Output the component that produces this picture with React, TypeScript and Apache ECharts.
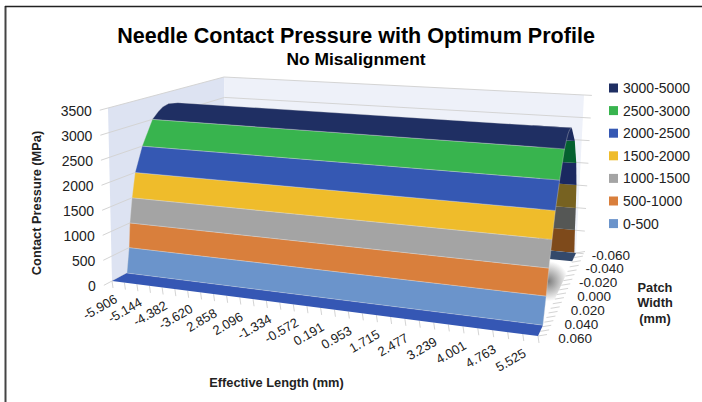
import React, { useEffect, useRef } from "react";
import * as echarts from "echarts";

const titleText = "Needle Contact Pressure with Optimum Profile";
const subtitleText = "No Misalignment";
const pressureAxisName = "Contact Pressure (MPa)";
const lengthAxisName = "Effective Length (mm)";
const widthAxisName = ["Patch", "Width", "(mm)"];

const pressureTicks = [0, 500, 1000, 1500, 2000, 2500, 3000, 3500];
const lengthLabels = ["-5.906", "-5.144", "-4.382", "-3.620", "2.858", "2.096", "-1.334", "-0.572", "0.191", "0.953", "1.715", "2.477", "3.239", "4.001", "4.763", "5.525"];
const widthLabels = ["0.060", "0.040", "0.020", "0.000", "-0.020", "-0.040", "-0.060"];

const bandNames = ["0-500", "500-1000", "1000-1500", "1500-2000", "2000-2500", "2500-3000", "3000-5000"];
const bandColors = ["#6b94cb", "#d97f3c", "#a4a4a4", "#efbc2b", "#3558b3", "#38b44e", "#1f2f63"];
const capColors = ["#7e4a1b", "#555755", "#776221", "#1a2860", "#04612f", "#1c2b5e"];
const legendOrder = [...bandNames].reverse();

// Cross-section of the surface, floor to ridge, seen at the near side
const profileWidth = [0.0444, 0.0416, 0.0402, 0.0374, 0.0336, 0.0257, 0.0146, 0.0084, 0.0036, -0.0024, -0.012];
const profilePressure = [0, 500, 1000, 1500, 2000, 2500, 3000, 3130, 3205, 3240, 3200];
// Cross-section at the far side, visible only on the right end cap
const capWidth = [-0.054, -0.0516, -0.0504, -0.048, -0.042, -0.03, -0.012];
const capPressure = [90, 627, 1122, 1650, 2190, 2773, 3200];

const FLOOR_BLUE = "#3557b4";
const FLOOR_SLATE = "#34496b";
const INK = "#222222";
const FONT = '"Liberation Sans", Arial, sans-serif';

const P_MAX = 3500;
const W_MAX = 0.06;
const LENGTH_STEPS = 31;
const WIDTH_STEPS = 18;

// 3D box corners on the page: [near/far][left/right][floor/top]
const box = {
  nlb: [112, 281], nlt: [108, 108],
  flb: [227, 220], flt: [224, 77],
  nrb: [538, 336], nrt: [556, 140],
  frb: [576, 253], frt: [584, 95],
};
const lerp = (a: number, b: number, t: number) => a + (b - a) * t;
const project = (tx: number, mm: number, p: number) => {
  const d = (W_MAX - mm) / (2 * W_MAX);
  const k = p / P_MAX;
  const out: number[] = [];
  for (const c of [0, 1]) {
    const near = lerp(lerp(box.nlb[c], box.nlt[c], k), lerp(box.nrb[c], box.nrt[c], k), tx);
    const far = lerp(lerp(box.flb[c], box.flt[c], k), lerp(box.frb[c], box.frt[c], k), tx);
    out.push(lerp(near, far, d));
  }
  return out;
};
const PERSP = 0.9;
const lengthT = (i: number) => {
  const t = i / LENGTH_STEPS;
  return (PERSP * t) / (1 + (PERSP - 1) * t);
};

const poly = (api: any, pts: number[][], fill: any, stroke?: string) => ({
  type: "polygon",
  shape: { points: pts.map((q) => api.coord(q)) },
  style: stroke ? { fill, stroke, lineWidth: 0.6 } : { fill },
  silent: true,
});
const seg = (a: number[], b: number[], color = "#d4d4d4", w = 1) => ({
  type: "line",
  shape: { x1: a[0], y1: a[1], x2: b[0], y2: b[1] },
  style: { stroke: color, lineWidth: w },
  silent: true,
});
const label = (text: string, x: number, y: number, size: number, align: string, rot = 0, bold = false) => ({
  type: "text",
  x,
  y,
  rotation: rot,
  style: { text, fill: INK, font: `${bold ? "bold " : ""}${size}px ${FONT}`, align, verticalAlign: "middle" },
  silent: true,
});

const custom = (name: string, renderItem: any, color?: string, count = 1) => ({
  type: "custom",
  name,
  coordinateSystem: "cartesian2d",
  data: Array.from({ length: count }, (_, i) => [i, 0]),
  encode: { x: 0, y: 1 },
  clip: false,
  silent: true,
  itemStyle: color ? { color } : undefined,
  renderItem,
});

const renderWalls = (_: any, api: any) => ({
  type: "group",
  children: [
    poly(api, [project(0, W_MAX, 0), project(0, W_MAX, P_MAX), project(0, -W_MAX, P_MAX), project(0, -W_MAX, 0)], "#dde3f2"),
    poly(api, [project(0, -W_MAX, 0), project(0, -W_MAX, P_MAX), project(1, -W_MAX, P_MAX), project(1, -W_MAX, 0)], "#eef1f9"),
  ],
});

const renderPressureTick = (params: any, api: any) => {
  const p = pressureTicks[params.dataIndex];
  const a = api.coord(project(0, W_MAX + 0.0085, p));
  const b = api.coord(project(0, -W_MAX, p));
  const c = api.coord(project(1.022, -W_MAX, p));
  return {
    type: "group",
    children: [seg(a, b), seg(b, c), label(String(p), a[0] - 8, a[1] + 1, 14, "right")],
  };
};

const renderLengthTick = (params: any, api: any) => {
  const i = params.dataIndex;
  const a = api.coord(project(lengthT(i), W_MAX, 0));
  const children: any[] = [seg(a, [a[0] + 1, a[1] + 7])];
  if (i % 2 === 0 && lengthLabels[i / 2] !== undefined) {
    children.push(label(lengthLabels[i / 2], a[0] - 12, a[1] + 26, 13, "center", Math.PI / 6));
  }
  return { type: "group", children };
};

const renderWidthTick = (params: any, api: any) => {
  const i = params.dataIndex;
  const mm = W_MAX - (2 * W_MAX * i) / WIDTH_STEPS;
  const a = api.coord(project(1, mm, 0));
  const children: any[] = [seg(a, [a[0] + 9, a[1] - 1.5])];
  if (i % 3 === 0) children.push(label(widthLabels[i / 3], a[0] + 54, a[1] + 2, 13.5, "right"));
  return { type: "group", children };
};

const renderCap = (params: any, api: any) => {
  const i = params.dataIndex;
  const outer = 1;
  const inner = 0.9;
  return poly(api, [
    project(outer, capWidth[i], capPressure[i]),
    project(outer, capWidth[i + 1], capPressure[i + 1]),
    project(inner, capWidth[i + 1], capPressure[i + 1]),
    project(inner, capWidth[i], capPressure[i]),
  ], capColors[i]);
};

const renderFloor = (_: any, api: any) => {
  const c = api.coord(project(0.97, 0.0, 0));
  return {
    type: "group",
    children: [
      poly(api, [project(0, W_MAX, 0), project(1, W_MAX, 0), project(1, -W_MAX, 0), project(0, -W_MAX, 0)], "#ffffff"),
      poly(api, [project(0.9, 0.05, 0), project(1, 0.05, 0), project(1, -0.048, 0), project(0.9, -0.048, 0)],
        new (echarts.graphic as any).RadialGradient(c[0] + 3, c[1] - 12, 20, [
          { offset: 0, color: "#7d7d7d" },
          { offset: 1, color: "#ffffff" },
        ], true)),
      poly(api, [project(0, -0.048, 0), project(1, -0.048, 0), project(1, -W_MAX, 0), project(0, -W_MAX, 0)], FLOOR_SLATE),
    ],
  };
};

const renderFrontFloor = (_: any, api: any) =>
  poly(api, [project(0, W_MAX, 0), project(1, W_MAX, 0), project(1, profileWidth[0], 0), project(0, profileWidth[0], 0)], FLOOR_BLUE);

const bandRenderer = (band: number) => (_: any, api: any) => {
  const hi = band === bandNames.length - 1 ? profileWidth.length - 1 : band + 1;
  const left: number[][] = [];
  const right: number[][] = [];
  for (let j = band; j <= hi; j++) {
    left.push(project(0, profileWidth[j], profilePressure[j]));
    right.unshift(project(1, profileWidth[j], profilePressure[j]));
  }
  return poly(api, [...left, ...right], bandColors[band], "rgba(225,225,225,0.55)");
};

const option: any = {
  animation: false,
  backgroundColor: "#ffffff",
  grid: { left: 0, right: 0, top: 0, bottom: 0 },
  xAxis: { type: "value", min: 0, max: 702, show: false },
  yAxis: { type: "value", min: 0, max: 402, inverse: true, show: false },
  title: [
    { text: titleText, left: 351, top: 19, textAlign: "center", textStyle: { fontFamily: FONT, fontSize: 21.55, fontWeight: "bold", color: "#000" } },
    { text: subtitleText, left: 351, top: 45, textAlign: "center", textStyle: { fontFamily: FONT, fontSize: 17.4, fontWeight: "bold", color: "#000" } },
  ],
  legend: {
    orient: "vertical",
    left: 604,
    top: 75,
    itemWidth: 9,
    itemHeight: 9,
    itemGap: 6.6,
    icon: "rect",
    selectedMode: false,
    data: legendOrder,
    textStyle: { fontFamily: FONT, fontSize: 14, color: INK, lineHeight: 16, padding: 0 },
  },
  graphic: [
    { type: "line", shape: { x1: 5.5, y1: 6, x2: 5.5, y2: 402 }, style: { stroke: "#444", lineWidth: 2 }, silent: true },
    { type: "line", shape: { x1: 5, y1: 6.5, x2: 702, y2: 6.5 }, style: { stroke: "#222", lineWidth: 1.5 }, silent: true },
    { type: "text", x: 36, y: 203, rotation: Math.PI / 2, style: { text: pressureAxisName, fill: INK, font: `bold 12.8px ${FONT}`, align: "center", verticalAlign: "middle" }, silent: true },
    { type: "text", x: 276.5, y: 382, style: { text: lengthAxisName, fill: INK, font: `bold 12.8px ${FONT}`, align: "center", verticalAlign: "middle" }, silent: true },
    ...widthAxisName.map((t, i) => ({ type: "text", x: 655, y: 287 + i * 15.5, style: { text: t, fill: INK, font: `bold 12.8px ${FONT}`, align: "center", verticalAlign: "middle" }, silent: true })),
  ],
  series: [
    custom("walls", renderWalls),
    custom("pressureTicks", renderPressureTick, undefined, pressureTicks.length),
    custom("cap", renderCap, undefined, capColors.length),
    custom("floor", renderFloor),
    custom("lengthTicks", renderLengthTick, undefined, LENGTH_STEPS + 1),
    custom("widthTicks", renderWidthTick, undefined, WIDTH_STEPS + 1),
    custom("frontFloor", renderFrontFloor),
    ...bandNames.map((n, i) => custom(n, bandRenderer(i), bandColors[i])),
  ],
};

export default function App() {
  const ref = useRef<HTMLDivElement>(null);
  useEffect(() => {
    document.body.style.margin = "0";
    const chart = echarts.init(ref.current!, undefined, { renderer: "svg" });
    chart.setOption(option);
    return () => chart.dispose();
  }, []);
  return <div ref={ref} style={{ width: 702, height: 402 }} />;
}
